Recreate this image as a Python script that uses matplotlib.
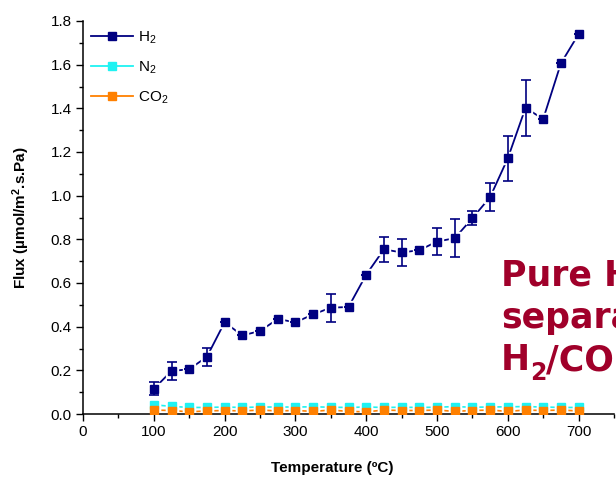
import matplotlib
matplotlib.use("Agg")
import matplotlib.pyplot as plt
from matplotlib.ticker import MultipleLocator, FormatStrFormatter
from matplotlib.lines import Line2D

plt.rcParams['font.family'] = ['Liberation Sans', 'DejaVu Sans']
plt.rcParams['mathtext.fontset'] = 'custom'
plt.rcParams['mathtext.rm'] = 'Liberation Sans'
plt.rcParams['mathtext.it'] = 'Liberation Sans:italic'
plt.rcParams['mathtext.bf'] = 'Liberation Sans:bold'

# temperature (ºC)
temp = [100, 125, 150, 175, 200, 225, 250, 275, 300, 325, 350, 375, 400,
        425, 450, 475, 500, 525, 550, 575, 600, 625, 650, 675, 700]

# flux H2 + fout
h2 = [0.115, 0.197, 0.205, 0.262, 0.42, 0.36, 0.38, 0.435, 0.42, 0.456, 0.487, 0.49, 0.638,
      0.754, 0.74, 0.75, 0.79, 0.805, 0.897, 0.993, 1.171, 1.402, 1.351, 1.606, 1.74]
h2_err = [0.03, 0.042, 0.0, 0.04, 0.0, 0.0, 0.0, 0.0, 0.0, 0.0, 0.064, 0.0, 0.0,
          0.057, 0.061, 0.0, 0.06, 0.088, 0.033, 0.063, 0.103, 0.128, 0.0, 0.0, 0.0]

# flux N2
n2 = [0.042, 0.035, 0.030, 0.030, 0.032, 0.030, 0.032, 0.032, 0.032, 0.033, 0.031, 0.030, 0.032,
      0.030, 0.031, 0.030, 0.031, 0.034, 0.031, 0.032, 0.033, 0.034, 0.032, 0.030, 0.030]

# flux CO2
co2 = [0.018, 0.016, 0.010, 0.014, 0.016, 0.014, 0.018, 0.014, 0.016, 0.012, 0.018, 0.012, 0.010,
       0.018, 0.016, 0.016, 0.018, 0.012, 0.016, 0.018, 0.012, 0.018, 0.016, 0.018, 0.014]

legend_labels = ['H$_2$', 'N$_2$', 'CO$_2$']

c_h2 = '#000080'
c_n2 = '#1ff2f2'
c_co2 = '#ff8000'
red = '#a0002a'

fig = plt.figure(figsize=(6.16, 4.83), dpi=100)
ax = fig.add_axes([83/616, 1 - 414/483, 531/616, 393/483])

# N2 en CO2 onderaan, met witte gaatjes rond de markers
ax.plot(temp, n2, '-', color=c_n2, lw=1.2, zorder=2)
ax.plot(temp, co2, '-', color=c_co2, lw=1.2, zorder=2)
ax.plot(temp, n2, 's', color='white', ms=8.5, zorder=2.2)
ax.plot(temp, co2, 's', color='white', ms=8.5, zorder=2.2)
ax.plot(temp, n2, 's', color=c_n2, ms=5.5, zorder=2.5)
ax.plot(temp, co2, 's', color=c_co2, ms=5.5, zorder=2.6)

# H2
ax.plot(temp, h2, '-', color=c_h2, lw=1.3, zorder=4)
ax.plot(temp, h2, 's', color='white', ms=9, zorder=4.5)
ax.errorbar(temp, h2, yerr=h2_err, fmt='none', ecolor=c_h2, elinewidth=1.2,
            capsize=3.3, capthick=1.2, zorder=5)
ax.plot(temp, h2, 's', color=c_h2, ms=5.5, zorder=6)

handles = [Line2D([], [], color=c, marker='s', ms=6, lw=1.3) for c in (c_h2, c_n2, c_co2)]
ax.legend(handles, legend_labels, loc='upper left', bbox_to_anchor=(0.0, 1.0),
          frameon=False, fontsize=11, handlelength=2.7, handletextpad=0.35,
          labelspacing=0.9, borderaxespad=0.15)

ax.set_xlim(0, 750)
ax.set_ylim(0, 1.8)
ax.set_xticks([0, 100, 200, 300, 400, 500, 600, 700])
ax.xaxis.set_minor_locator(MultipleLocator(50))
ax.yaxis.set_major_locator(MultipleLocator(0.2))
ax.yaxis.set_minor_locator(MultipleLocator(0.1))
ax.yaxis.set_major_formatter(FormatStrFormatter('%.1f'))

for s in ['top', 'right']:
    ax.spines[s].set_visible(False)
for s in ['left', 'bottom']:
    ax.spines[s].set_linewidth(1.1)
ax.tick_params(which='major', direction='out', length=5, width=1, labelsize=11, pad=3)
ax.tick_params(which='minor', direction='out', length=3, width=1)

ax.set_xlabel('Temperature (ºC)', fontsize=11, fontweight='bold')
ax.xaxis.set_label_coords(0.47, -0.12)
ax.set_ylabel('Flux (µmol/m$^\\mathbf{2}$.s.Pa)', fontsize=11, fontweight='bold')
ax.yaxis.set_label_coords(-0.096, 0.5)

# grote rode tekst rechts (loopt in het origineel buiten beeld)
fig.canvas.draw()
renderer = fig.canvas.get_renderer()
kw = dict(fontweight='bold', color=red, family='DejaVu Sans', va='baseline', ha='left')
lines = [
    [('Pure H', 25, 0)],
    [('separa', 25, 0)],
    [('H', 25, 0), ('2', 17, -10), ('/CO', 25, 0)],
]
for pieces, yb in zip(lines, [286, 328, 370]):
    x = 501
    for txt, size, dy in pieces:
        t = fig.text(x / 616, 1 - (yb - dy) / 483, txt, fontsize=size, **kw)
        x = t.get_window_extent(renderer).x1

fig.savefig('out.png', dpi=100)
